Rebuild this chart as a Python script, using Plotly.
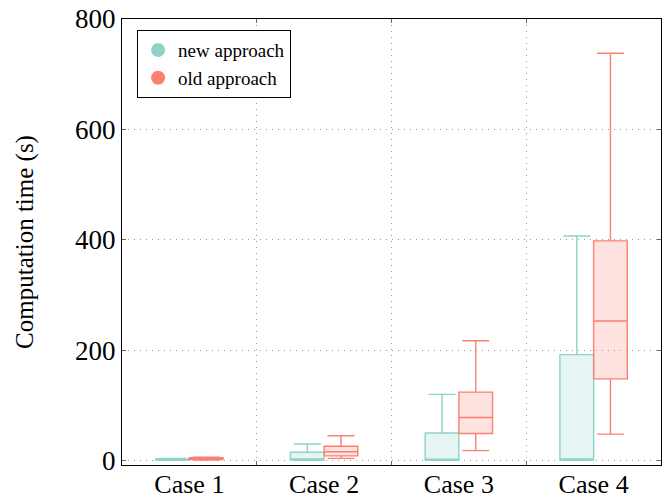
import plotly.graph_objects as go

categories = ["Case 1", "Case 2", "Case 3", "Case 4"]
series_names = ["new approach", "old approach"]

new_min = [0.5, 0.5, 0.3, 0.5]
new_q1 = [1.0, 1.0, 0.5, 1.0]
new_med = [1.5, 3.0, 1.0, 2.0]
new_q3 = [3.0, 15.0, 50.0, 192.0]
new_max = [4.0, 30.0, 120.0, 407.0]

old_min = [1.0, 4.0, 18.0, 48.0]
old_q1 = [2.0, 8.5, 49.0, 148.0]
old_med = [3.0, 16.0, 78.0, 253.0]
old_q3 = [5.0, 26.0, 124.0, 398.0]
old_max = [6.0, 45.0, 217.0, 738.0]

colors = ["#8dd3c7", "#fb8072"]
fills = ["rgba(141,211,199,0.22)", "rgba(251,128,114,0.22)"]

FONT = "Liberation Serif"

fig = go.Figure()
stats = [
    (new_min, new_q1, new_med, new_q3, new_max),
    (old_min, old_q1, old_med, old_q3, old_max),
]
for i, (mn, q1, md, q3, mx) in enumerate(stats):
    fig.add_trace(go.Box(
        x=categories, q1=q1, median=md, q3=q3, lowerfence=mn, upperfence=mx,
        name=series_names[i], offsetgroup=str(i),
        fillcolor=fills[i], line=dict(color=colors[i], width=1.4),
        whiskerwidth=0.8, showlegend=False, boxpoints=False,
    ))
    fig.add_trace(go.Scatter(
        x=[None], y=[None], mode="markers", name=series_names[i],
        marker=dict(symbol="circle", size=14, color=colors[i]),
    ))

fig.update_layout(
    width=665, height=500,
    boxmode="group", boxgap=0.5, boxgroupgap=0,
    plot_bgcolor="white", paper_bgcolor="white",
    margin=dict(l=122, r=4, t=19, b=35, autoexpand=False),
    font=dict(family=FONT, color="black"),
    legend=dict(x=0.028, y=0.975, xanchor="left", yanchor="top",
                bordercolor="black", borderwidth=1, bgcolor="white",
                font=dict(family=FONT, size=19), itemwidth=30,
                tracegroupgap=0),
)
fig.update_xaxes(
    type="category", range=[-0.5, 3.5], tickson="boundaries",
    showgrid=True, gridcolor="#9a9a9a", griddash="1px,5px", gridwidth=1,
    showline=True, linecolor="black", linewidth=1, mirror="ticks",
    ticks="inside", ticklen=4, tickcolor="#666666", automargin=False,
    ticklabelstandoff=-4,
    tickfont=dict(family=FONT, size=26),
)
fig.update_yaxes(
    range=[-8, 800.01], tickvals=[0, 200, 400, 600, 800],
    showgrid=True, gridcolor="#9a9a9a", griddash="1px,5px", gridwidth=1,
    zeroline=False, automargin=False,
    showline=True, linecolor="black", linewidth=1, mirror="ticks",
    ticks="inside", ticklen=4, tickcolor="#666666",
    tickfont=dict(family=FONT, size=27),
    title=dict(text="Computation time (s)", font=dict(family=FONT, size=25), standoff=34),
)

fig.write_html("out.html", config={"displayModeBar": False},
               post_script="document.body.style.margin='0';")
